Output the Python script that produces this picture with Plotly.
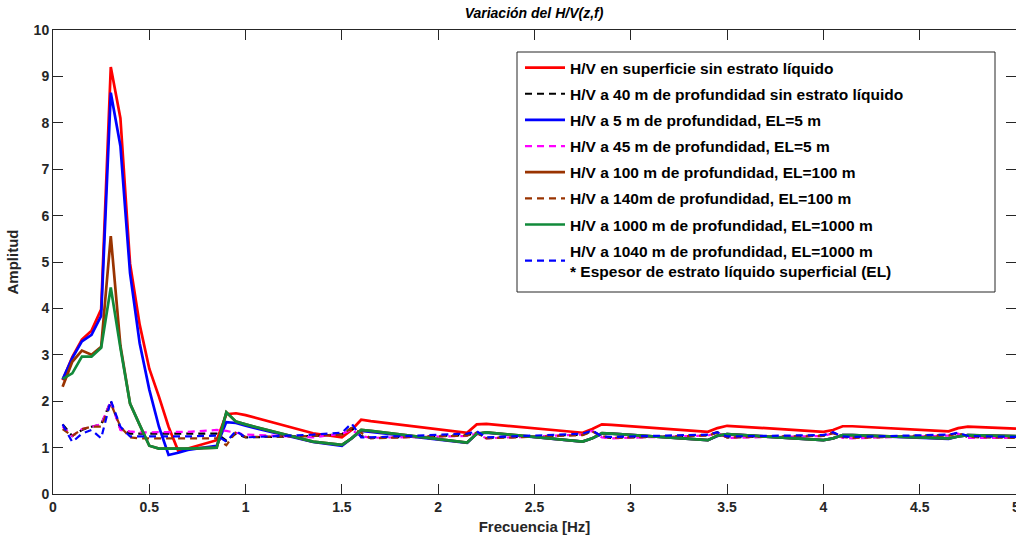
import plotly.graph_objects as go

# Frequency breakpoints (Hz) shared by all H/V curves
freq = [0.05, 0.10, 0.15, 0.20, 0.25, 0.30, 0.35, 0.40, 0.45, 0.50, 0.55, 0.60,
        0.65, 0.70, 0.85, 0.90, 0.95, 1.00, 1.35, 1.50, 1.55, 1.60, 1.65,
        2.15, 2.20, 2.25, 2.75, 2.80, 2.85, 2.90, 3.40, 3.45, 3.50,
        4.00, 4.05, 4.10, 4.15, 4.65, 4.70, 4.75, 5.00]

# Amplitude of each H/V ratio
hv_sup = [2.45, 2.95, 3.33, 3.52, 3.98, 9.20, 8.10, 4.97, 3.65, 2.70, 2.10, 1.45,
          0.93, 0.98, 1.16, 1.72, 1.74, 1.70, 1.31, 1.22, 1.38, 1.60, 1.57,
          1.32, 1.50, 1.51, 1.32, 1.40, 1.50, 1.49, 1.34, 1.42, 1.47,
          1.34, 1.38, 1.46, 1.46, 1.35, 1.42, 1.45, 1.41]
hv_40m = [1.50, 1.25, 1.38, 1.45, 1.50, 2.00, 1.40, 1.30, 1.30, 1.30, 1.30, 1.30,
          1.30, 1.30, 1.30, 1.15, 1.30, 1.22, 1.25, 1.29, 1.42, 1.25, 1.21,
          1.27, 1.32, 1.21, 1.28, 1.36, 1.23, 1.21, 1.27, 1.33, 1.22,
          1.26, 1.32, 1.23, 1.22, 1.27, 1.31, 1.23, 1.22]
hv_5m = [2.47, 2.93, 3.29, 3.43, 3.84, 8.65, 7.50, 4.76, 3.25, 2.25, 1.45, 0.84,
         0.89, 0.95, 1.04, 1.55, 1.53, 1.47, 1.12, 1.04, 1.20, 1.36, 1.34,
         1.10, 1.30, 1.32, 1.13, 1.20, 1.30, 1.30, 1.16, 1.25, 1.29,
         1.16, 1.20, 1.27, 1.27, 1.19, 1.24, 1.27, 1.24]
hv_45m = [1.45, 1.25, 1.40, 1.45, 1.50, 2.00, 1.38, 1.35, 1.33, 1.33, 1.33, 1.33,
          1.34, 1.34, 1.38, 1.36, 1.32, 1.28, 1.22, 1.30, 1.38, 1.25, 1.21,
          1.25, 1.30, 1.20, 1.28, 1.36, 1.22, 1.20, 1.26, 1.32, 1.21,
          1.25, 1.31, 1.21, 1.20, 1.26, 1.30, 1.21, 1.21]
hv_100m = [2.31, 2.85, 3.09, 3.00, 3.17, 5.56, 3.20, 1.95, 1.49, 1.04, 0.98, 0.98,
           0.98, 0.98, 1.00, 1.76, 1.56, 1.50, 1.13, 1.06, 1.20, 1.38, 1.36,
           1.11, 1.30, 1.33, 1.13, 1.20, 1.31, 1.30, 1.16, 1.26, 1.29,
           1.16, 1.20, 1.27, 1.27, 1.20, 1.24, 1.27, 1.25]
hv_140m = [1.40, 1.25, 1.40, 1.45, 1.45, 1.95, 1.45, 1.22, 1.20, 1.20, 1.20, 1.20,
           1.20, 1.20, 1.20, 1.05, 1.34, 1.23, 1.25, 1.28, 1.42, 1.32, 1.20,
           1.26, 1.32, 1.20, 1.27, 1.35, 1.25, 1.21, 1.26, 1.32, 1.22,
           1.25, 1.31, 1.23, 1.21, 1.26, 1.31, 1.23, 1.21]
hv_1000m = [2.48, 2.60, 2.96, 2.96, 3.15, 4.45, 3.15, 1.95, 1.49, 1.04, 0.98, 0.98,
            0.98, 0.98, 1.00, 1.76, 1.56, 1.50, 1.13, 1.06, 1.20, 1.38, 1.36,
            1.11, 1.30, 1.33, 1.13, 1.20, 1.31, 1.30, 1.16, 1.26, 1.29,
            1.16, 1.20, 1.27, 1.27, 1.20, 1.24, 1.27, 1.25]
hv_1040m = [1.50, 1.12, 1.30, 1.38, 1.20, 2.02, 1.45, 1.24, 1.24, 1.24, 1.23, 1.24,
            1.24, 1.24, 1.26, 1.13, 1.36, 1.22, 1.28, 1.32, 1.52, 1.22, 1.22,
            1.30, 1.35, 1.22, 1.30, 1.37, 1.24, 1.23, 1.28, 1.33, 1.24,
            1.27, 1.33, 1.24, 1.23, 1.28, 1.32, 1.25, 1.23]

series = [
    ("H/V en superficie sin estrato líquido", hv_sup, "#FF0000", "solid"),
    ("H/V a 40 m de profundidad sin estrato líquido", hv_40m, "#000000", "dash"),
    ("H/V a 5 m de profundidad, EL=5 m", hv_5m, "#0000FF", "solid"),
    ("H/V a 45 m de profundidad, EL=5 m", hv_45m, "#FF00FF", "dash"),
    ("H/V a 100 m de profundidad, EL=100 m", hv_100m, "#993300", "solid"),
    ("H/V a 140m de profundidad, EL=100 m", hv_140m, "#993300", "dash"),
    ("H/V a 1000 m de profundidad, EL=1000 m", hv_1000m, "#118A3A", "solid"),
    ("H/V a 1040 m de profundidad, EL=1000 m<br>* Espesor de estrato líquido superficial (EL)",
     hv_1040m, "#0000FF", "dash"),
]

FONT = "Liberation Sans, Arial, sans-serif"
AXIS_COLOR = "#262626"

# plot area in pixels
L, R, T, B = 53, 1016, 30, 494
PW, PH = R - L, B - T

fig = go.Figure()
for i, (name, vals, color, style) in enumerate(series):
    fig.add_trace(go.Scatter(
        x=freq, y=vals, mode="lines", name=name, legendgroup=f"g{i}",
        line=dict(color=color, width=2.7 if style == "solid" else 2.2,
                  dash="solid" if style == "solid" else "7px,5px"),
    ))

axis_common = dict(
    showline=True, linecolor=AXIS_COLOR, linewidth=1, mirror="ticks",
    ticks="inside", ticklen=10, tickcolor=AXIS_COLOR, showgrid=False, zeroline=False,
    automargin=False,
    tickfont=dict(family=FONT, size=14, color=AXIS_COLOR, weight="bold"),
)

# Legend frame: fixed-size white box behind the legend entries
fig.add_shape(type="rect", xref="paper", yref="paper", layer="below",
              x0=(517 - L) / PW, x1=(995 - L) / PW,
              y0=(B - 292) / PH, y1=(B - 52) / PH,
              line=dict(color=AXIS_COLOR, width=1), fillcolor="white")

fig.update_layout(
    width=1016, height=542,
    margin=dict(l=L, r=1016 - R, t=T, b=542 - B),
    paper_bgcolor="white", plot_bgcolor="white",
    title=dict(text="Variación del H/V(z,f)", x=(534 - L) / PW, xref="paper", xanchor="center",
               y=0.975, yanchor="middle",
               font=dict(family=FONT, size=14, color="#000000", weight="bold", style="italic")),
    xaxis=dict(range=[0, 5], tick0=0, dtick=0.5, ticklabeloverflow="allow",
               title=dict(text="Frecuencia [Hz]", standoff=7,
                          font=dict(family=FONT, size=15, color=AXIS_COLOR, weight="bold")),
               **axis_common),
    yaxis=dict(range=[0, 10], tick0=0, dtick=1,
               title=dict(text="Amplitud", standoff=11,
                          font=dict(family=FONT, size=15, color=AXIS_COLOR, weight="bold")),
               **axis_common),
    legend=dict(x=(520 - L) / PW, y=(B - 51) / PH, xanchor="left", yanchor="top",
                bgcolor="rgba(0,0,0,0)", borderwidth=0,
                tracegroupgap=3, itemwidth=40,
                font=dict(family=FONT, size=15.5, color="#000000", weight="bold")),
    showlegend=True,
)

fig.write_html("out.html")
